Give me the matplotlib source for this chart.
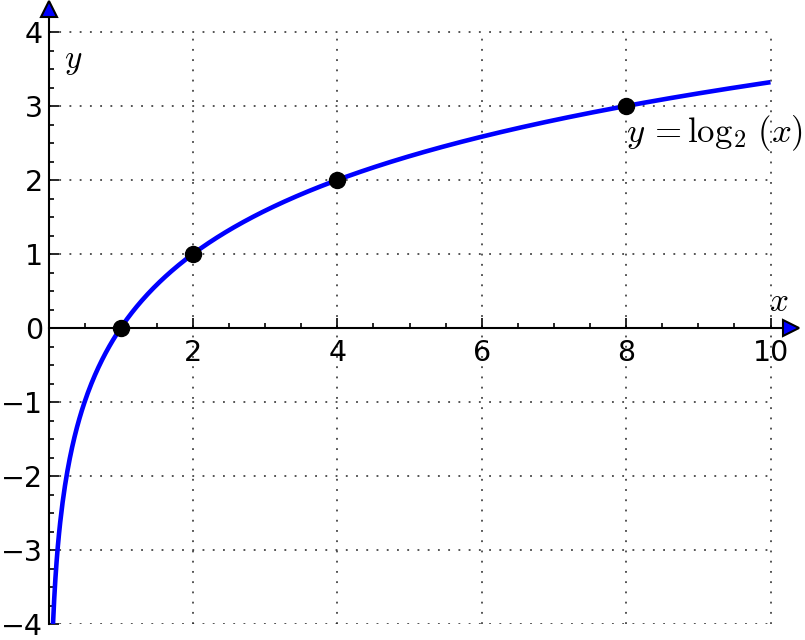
import numpy as np
import matplotlib
matplotlib.use("Agg")
import matplotlib.pyplot as plt
from matplotlib.ticker import MultipleLocator

plt.rcParams['mathtext.fontset'] = 'cm'
plt.rcParams['font.family'] = ['DejaVu Sans']

# Data
x_domain = (1/16, 10)
point_x = [1, 2, 4, 8]
point_y = [0, 1, 2, 3]
x_ticks = [2, 4, 6, 8, 10]
y_ticks = [-4, -3, -2, -1, 0, 1, 2, 3, 4]
curve_label = r'$y\,{=}\log_2\,(x)$'

xs = np.linspace(x_domain[0], x_domain[1], 600)
ys = np.log2(xs)

XMAX, YMAX = 10.28, 4.31
px_x, px_y = 72.2, 74.0
fig = plt.figure(figsize=(8.05, 6.40), dpi=100)
ax = fig.add_axes([48.5/805, 16/640, XMAX*px_x/805, (YMAX+4)*px_y/640])
ax.set_xlim(0, XMAX)
ax.set_ylim(-4, YMAX)

# grid bounded to [0,10]x[-4,4]
grid_style = dict(colors='0.15', linestyles=[(0, (1.2, 5.5))], linewidths=1.1, zorder=0)
ax.vlines(x_ticks, -4, 4, **grid_style)
ax.hlines(y_ticks, 0, 10, **grid_style)

# spines as axes through origin
for s in ['top', 'right']:
    ax.spines[s].set_visible(False)
ax.spines['left'].set_position(('data', 0))
ax.spines['bottom'].set_position(('data', 0))
ax.spines['left'].set_linewidth(1.5)
ax.spines['bottom'].set_linewidth(1.5)

ax.set_xticks(x_ticks)
ax.set_yticks(y_ticks)
ax.xaxis.set_minor_locator(MultipleLocator(0.5))
ax.yaxis.set_minor_locator(MultipleLocator(0.25))
ax.tick_params(which='major', direction='in', length=7, width=1.2, labelsize=20.5)
ax.tick_params(which='minor', direction='in', length=3.5, width=1.2)
ax.tick_params(axis='y', which='major', pad=4)
ax.tick_params(axis='x', which='major', pad=8)

# arrows
ax.plot(1, 0, '>', transform=ax.get_yaxis_transform(), clip_on=False,
        markersize=11, markerfacecolor='#0000ff', markeredgecolor='black',
        markeredgewidth=1.5, zorder=5)
ax.plot(0, 1, '^', transform=ax.get_xaxis_transform(), clip_on=False,
        markersize=11, markerfacecolor='#0000ff', markeredgecolor='black',
        markeredgewidth=1.5, zorder=5)

# curve and points
ax.plot(xs, ys, color='#0000ff', linewidth=3.3, zorder=3, solid_capstyle='butt')
ax.plot(point_x, point_y, 'o', color='black', markersize=11.5, zorder=4, clip_on=False)

ax.text(8.0, 2.63, curve_label, fontsize=25, ha='left', va='center')
ax.text(0.22, 3.62, r'$y$', fontsize=24, ha='left', va='center')
ax.text(10.12, 0.36, r'$x$', fontsize=24, ha='center', va='center')

fig.savefig('out.png', dpi=100)
